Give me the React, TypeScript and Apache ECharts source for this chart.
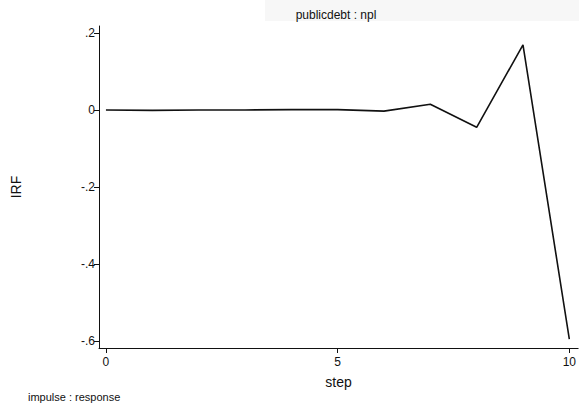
import React, { useEffect, useRef } from "react";
import * as echarts from "echarts";

const steps = [0, 1, 2, 3, 4, 5, 6, 7, 8, 9, 10];
const irf = [0, -0.001, 0, 0, 0.001, 0.001, -0.003, 0.015, -0.045, 0.169, -0.595];
const yTicks = [-0.6, -0.4, -0.2, 0, 0.2];
const yTickLabels = ["-.6", "-.4", "-.2", "0", ".2"];
const xTicks = [0, 5, 10];

export default function App() {
  const ref = useRef<HTMLDivElement>(null);
  useEffect(() => {
    const chart = echarts.init(ref.current!, null, { renderer: "svg" });
    const font = "'Liberation Sans', Arial, sans-serif";
    chart.setOption({
      animation: false,
      backgroundColor: "#ffffff",
      title: {
        text: "publicdebt : npl",
        left: 331,
        top: 4,
        textAlign: "center",
        textStyle: { fontFamily: font, fontSize: 12, fontWeight: "normal", color: "#111" },
      },
      graphic: [
        {
          type: "rect",
          z: -1,
          shape: { x: 265, y: 0, width: 314, height: 21 },
          style: { fill: "#f7f7f7" },
        },
        {
          type: "text",
          left: 28,
          top: 391,
          style: { text: "impulse : response", fontFamily: font, fontSize: 11, fill: "#111" },
        },
      ],
      grid: { left: 99, right: 0, top: 26, bottom: 64 },
      xAxis: {
        type: "value",
        min: -0.15,
        max: 10.19,
        name: "step",
        nameLocation: "middle",
        nameGap: 27,
        nameTextStyle: { fontFamily: font, fontSize: 14, color: "#111" },
        splitLine: { show: false },
        axisLine: { show: true, onZero: false, lineStyle: { color: "#111", width: 1 } },
        axisTick: { show: true, customValues: xTicks, length: 5, lineStyle: { color: "#111" } },
        axisLabel: {
          customValues: xTicks,
          fontFamily: font,
          fontSize: 12,
          color: "#111",
          margin: 8,
        },
      },
      yAxis: {
        type: "value",
        min: -0.618,
        max: 0.218,
        name: "IRF",
        nameLocation: "middle",
        nameGap: 76,
        nameRotate: 90,
        nameTextStyle: { fontFamily: font, fontSize: 14, color: "#111" },
        splitLine: { show: false },
        axisLine: { show: true, onZero: false, lineStyle: { color: "#111", width: 1 } },
        axisTick: { show: true, customValues: yTicks, length: 5, lineStyle: { color: "#111" } },
        axisLabel: {
          customValues: yTicks,
          fontFamily: font,
          fontSize: 12,
          color: "#111",
          margin: 4,
          formatter: (v: number) => {
            const i = yTicks.findIndex((t) => Math.abs(t - v) < 1e-6);
            return i >= 0 ? yTickLabels[i] : "";
          },
        },
      },
      series: [
        {
          type: "line",
          data: steps.map((s, i) => [s, irf[i]]),
          showSymbol: false,
          lineStyle: { color: "#111", width: 1.6 },
        },
      ],
    });
    return () => chart.dispose();
  }, []);
  return <div ref={ref} style={{ width: 579, height: 412, position: "absolute", left: 0, top: 0 }} />;
}
